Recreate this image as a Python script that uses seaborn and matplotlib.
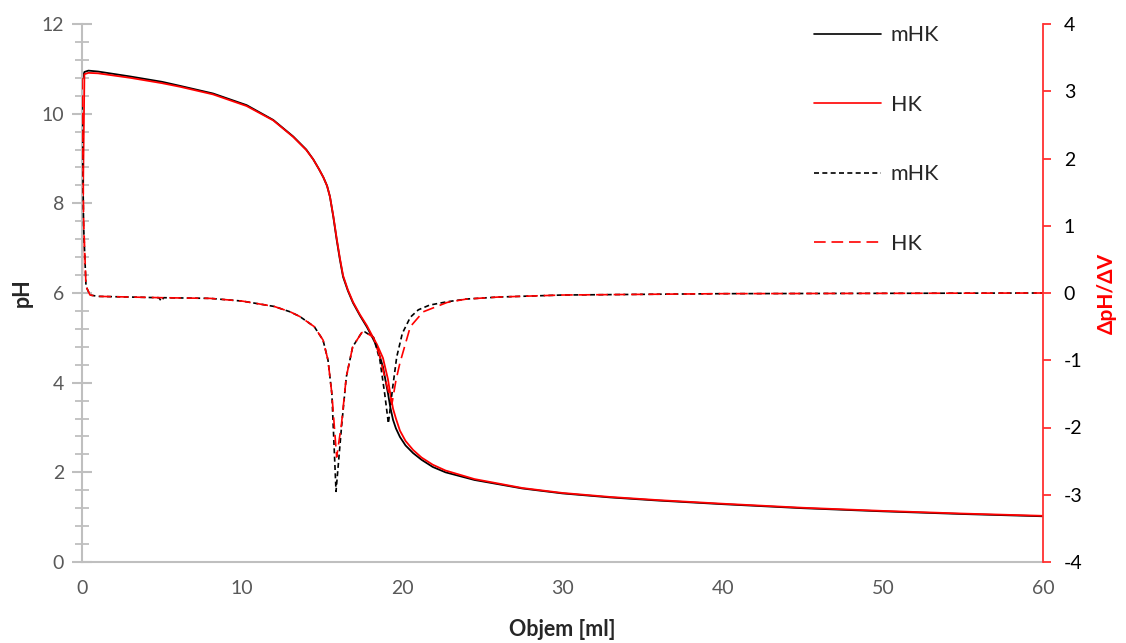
import numpy as np
import pandas as pd
import matplotlib
matplotlib.use("Agg")
import matplotlib.pyplot as plt
import seaborn as sns
from matplotlib.lines import Line2D
from matplotlib.ticker import MultipleLocator

sns.set_style("white")
plt.rcParams['font.family'] = ['Lato', 'DejaVu Sans']
plt.rcParams['axes.unicode_minus'] = False

# ---- data ----
vol_ph = [0, 0.15, 0.4, 1, 3, 5, 6.12, 8.18, 10.28, 11.94, 13.19, 14.0, 14.44, 14.8,
          15.07, 15.3, 15.48, 15.69, 15.9, 16.1, 16.3, 16.6, 16.92, 17.35, 17.79, 18.1,
          18.42, 18.79, 19.1, 19.25, 19.42, 19.6, 19.85, 20.2, 20.67, 21.2, 21.9, 22.7,
          24.5, 27.5, 30, 33, 36, 40, 45, 50, 55, 60]
ph_mhk = [10.75, 10.93, 10.96, 10.94, 10.83, 10.71, 10.62, 10.45, 10.19, 9.86, 9.49,
          9.2, 8.98, 8.76, 8.58, 8.39, 8.15, 7.7, 7.19, 6.75, 6.36, 6.05, 5.78, 5.5, 5.24,
          5.03, 4.8, 4.35, 3.77, 3.45, 3.17, 2.98, 2.79, 2.6, 2.43, 2.28, 2.12, 2.0,
          1.83, 1.64, 1.53, 1.44, 1.37, 1.29, 1.2, 1.13, 1.07, 1.02]
ph_hk = [6.0, 10.88, 10.91, 10.9, 10.8, 10.68, 10.6, 10.43, 10.17, 9.85, 9.48, 9.19,
         8.98, 8.76, 8.58, 8.39, 8.15, 7.72, 7.22, 6.78, 6.39, 6.07, 5.8, 5.52, 5.27, 5.06,
         4.85, 4.55, 4.08, 3.75, 3.42, 3.2, 2.93, 2.7, 2.5, 2.33, 2.17, 2.04, 1.85,
         1.65, 1.54, 1.45, 1.38, 1.3, 1.21, 1.14, 1.08, 1.03]

vol_d_mhk = [0, 0.1, 0.25, 0.5, 1, 3, 4.8, 4.95, 5.1, 8, 10, 12, 13, 13.6, 14.5, 15.05,
             15.36, 15.6, 15.86, 16.2, 16.5, 16.9, 17.46, 17.67, 18.2, 18.6, 18.9, 19.13,
             19.4, 19.65, 20.0, 20.5, 21.0, 21.7, 22.8, 24, 26, 30, 35, 40, 50, 60]
d_mhk = [2.8, 1.0, 0.1, -0.03, -0.05, -0.06, -0.07, -0.12, -0.07, -0.08, -0.12, -0.2,
         -0.28, -0.35, -0.5, -0.7, -1.0, -1.5, -2.95, -2.0, -1.25, -0.8, -0.59, -0.58,
         -0.66, -1.0, -1.5, -1.94, -1.4, -0.95, -0.6, -0.36, -0.25, -0.18, -0.13, -0.09,
         -0.06, -0.03, -0.02, -0.01, -0.005, 0.0]

vol_d_hk = [0, 0.1, 0.25, 0.5, 1, 3, 5, 8, 10, 12, 13, 13.6, 14.5, 15.05, 15.36, 15.6,
            15.9, 16.2, 16.5, 16.9, 17.46, 17.67, 18.2, 18.6, 18.95, 19.35, 19.6, 19.85,
            20.5, 21.3, 22.8, 24, 26, 30, 35, 40, 50, 60]
d_hk = [3.2, 1.1, 0.1, -0.03, -0.05, -0.06, -0.07, -0.08, -0.12, -0.2, -0.28, -0.35,
        -0.5, -0.7, -1.0, -1.5, -2.44, -1.95, -1.25, -0.8, -0.59, -0.58, -0.66, -0.95,
        -1.3, -1.65, -1.3, -1.04, -0.5, -0.28, -0.14, -0.09, -0.06, -0.03, -0.02, -0.01,
        -0.005, 0.0]

labels = ["mHK", "HK", "mHK", "HK"]

df_ph_m = pd.DataFrame({"v": vol_ph, "y": ph_mhk})
df_ph_h = pd.DataFrame({"v": vol_ph, "y": ph_hk})
df_d_m = pd.DataFrame({"v": vol_d_mhk, "y": d_mhk})
df_d_h = pd.DataFrame({"v": vol_d_hk, "y": d_hk})

fig = plt.figure(figsize=(11.26, 6.43), dpi=100)
ax = fig.add_axes([82/1126, 1-562/643, (1043-82)/1126, (562-24)/643])
ax2 = ax.twinx()

grey = "#bfbfbf"
lw = 1.3
sns.lineplot(data=df_ph_m, x="v", y="y", ax=ax, color="black", lw=lw, sort=False, estimator=None)
sns.lineplot(data=df_ph_h, x="v", y="y", ax=ax, color="#ff0000", lw=lw, sort=False, estimator=None)
sns.lineplot(data=df_d_m, x="v", y="y", ax=ax2, color="black", lw=1.2, sort=False,
             estimator=None)
sns.lineplot(data=df_d_h, x="v", y="y", ax=ax2, color="#ff0000", lw=1.2, sort=False,
             estimator=None)
ax2.lines[0].set_dashes((3, 2))
ax2.lines[1].set_dashes((7, 3.5))
for l in ax.lines + ax2.lines:
    l.set_solid_joinstyle("round")
    l.set_dash_joinstyle("round")

ax.set_xlim(0, 60)
ax.set_ylim(0, 12)
ax2.set_ylim(-4, 4)

ax.xaxis.set_major_locator(MultipleLocator(10))
ax.xaxis.set_minor_locator(MultipleLocator(2))
ax.yaxis.set_major_locator(MultipleLocator(2))
ax.yaxis.set_minor_locator(MultipleLocator(0.4))
ax2.yaxis.set_major_locator(MultipleLocator(1))

for s in ["top", "right"]:
    ax.spines[s].set_visible(False)
for s in ["left", "bottom"]:
    ax.spines[s].set_color(grey)
    ax.spines[s].set_linewidth(1.5)
for s in ["top", "left", "bottom"]:
    ax2.spines[s].set_visible(False)
ax2.spines["right"].set_color("#ff3030")
ax2.spines["right"].set_linewidth(1.3)

ax.tick_params(axis="both", which="major", direction="inout", length=14, width=1.5,
               color=grey, labelsize=14, labelcolor="#595959", pad=6)
ax.tick_params(axis="both", which="minor", direction="inout", length=10, width=1.3,
               color=grey)
ax2.tick_params(axis="y", which="major", direction="out", length=6, width=1.3,
                color="#ff3030", labelsize=14, labelcolor="black", pad=9, right=True)

ax.set_xlabel("Objem [ml]", fontsize=15.5, fontweight="bold", labelpad=16)
ax.set_ylabel("pH", fontsize=15.5, fontweight="bold", labelpad=6)
ax2.set_ylabel("ΔpH/ΔV", fontsize=15, fontweight="bold", color="#ff0000", labelpad=10,
               rotation=90)

handles = [
    Line2D([], [], color="black", lw=1.2),
    Line2D([], [], color="#ff0000", lw=1.2),
    Line2D([], [], color="black", lw=1.2, dashes=(3, 2)),
    Line2D([], [], color="#ff0000", lw=1.2, dashes=(7, 3.5)),
]
fig.legend(handles, labels, loc="upper left", bbox_to_anchor=(795/1126, 1-6/643),
           frameon=False, fontsize=15.5, handlelength=3.1, labelspacing=2.3,
           handletextpad=0.45)

fig.savefig("out.png", dpi=100)
